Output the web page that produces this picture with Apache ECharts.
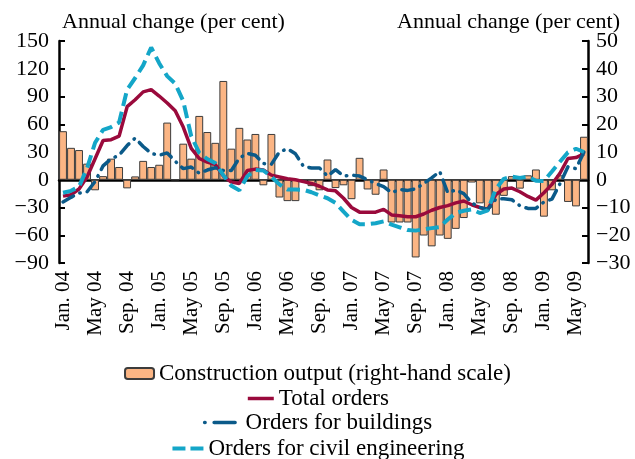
<!DOCTYPE html>
<html>
<head>
<meta charset="utf-8">
<script src="https://cdn.jsdelivr.net/npm/echarts@6/dist/echarts.min.js"></script>
<style>
html, body { margin: 0; padding: 0; background: #fff; }
#chart { width: 635px; height: 459px; }
</style>
</head>
<body>
<div id="chart"></div>
<script>
// month categories, Jan. 04 .. June 09
var monthNames = ['Jan.', 'Feb.', 'Mar.', 'Apr.', 'May', 'June', 'July', 'Aug.', 'Sep.', 'Oct.', 'Nov.', 'Dec.'];
var years = ['04', '05', '06', '07', '08', '09'];
var months = [];
years.forEach(function (y) {
  monthNames.forEach(function (m) { months.push(m + ' ' + y); });
});
months = months.slice(0, 66);

// construction output, right-hand scale
var construction = [
  17.5, 11.5, 10.7, 5.8, -3.8, 1.3, 7.6, 4.6, -3.1, 1.2, 6.8, 4.6,
  5.4, 20.6, 0, 13.0, 7.6, 23.0, 17.2, 13.3, 35.6, 11.2, 18.7, 14.5,
  16.5, -2.0, 16.5, -6.4, -7.7, -7.7, -0.5, -2.3, -3.8, 7.3, -3.0, -2.0,
  -7.0, 7.9, -3.5, -5.4, 3.7, -15.4, -15.4, -15.4, -28.0, -20.1, -24.0, -20.1,
  -21.3, -17.7, -13.8, -1.0, -8.5, -10.3, -12.6, -5.8, 1.3, -3.2, 1.6, 3.7,
  -13.3, -3.8, 1.6, -8.0, -9.6, 15.5
];
// left-hand scale
var totalOrders = [
  -17.7, -16.2, -10, 3, 22.7, 42.5, 43.3, 47.2, 79, 86.5, 95, 97.4,
  90.5, 83, 74.5, 57, 34, 23, 19, 16.5, 4, -2.5, -4, 10,
  11.5, 10.5, 5, 3, 1, 0, -2, -4, -7, -11, -12, -20,
  -30, -35, -35, -35, -32, -38, -39, -40, -40, -37, -33, -30,
  -28, -25, -23, -27, -30, -32, -16, -10, -9, -13, -18, -22,
  -14, -5, 7, 23, 24, 28
];
var buildings = [
  -24, -19, -14.5, -13, -2, 15, 22.7, 26.5, 37, 45, 36, 28.5,
  26.5, 29, 20, 12, 13.7, 7, 10.5, 13, 10, 10, 23.5, 28.5,
  26.5, 17.5, 16.8, 30, 33.5, 28, 14.5, 12.7, 12.8, 4, 11, 4,
  5, 4, 0, -4, -7.5, -14, -10.5, -11.5, -10, -4, 2, 9,
  -14, -11, -15, -25, -30, -32, -21, -20.5, -21.6, -28, -31, -31,
  -24, -21, -4.3, 14, 12, 30
];
var civil = [
  -14, -12, -7.5, 12.5, 40, 54, 57, 62, 97.5, 110, 123.7, 143,
  126, 112, 104, 85, 47, 29, 22.4, 18, 5, -6.5, -11.5, 3.8,
  10.6, 10, 3.2, -5, -10.6, -10.6, -10.8, -13.5, -17, -20, -25, -34.5,
  -43.3, -48, -48, -47, -45, -48.5, -51.4, -54.4, -55, -53.5, -52.3, -51.2,
  -43, -36, -33.5, -32, -36, -33, -10, 1, 3.5, 2, 3.5, -1,
  -1.3, 9, 19.5, 29.6, 33.5, 30
];

var serif = 'Liberation Serif';
var minus = function (v) { return String(v).replace('-', '\u2212'); };
var black = '#000';
var red = '#9a0a3c', darkBlue = '#0b5a89', lightBlue = '#14a6c8';

var chart = echarts.init(document.getElementById('chart'));

var legendText = { fontSize: 23, fontFamily: serif, color: black };

var option = {
  animation: false,
  textStyle: { fontFamily: serif, color: black },
  grid: { left: 59, right: 47, top: 41, bottom: 196 },
  graphic: [
    { type: 'text', left: 62, top: 11, style: { text: 'Annual change (per cent)', font: '22px ' + serif, fill: black } },
    { type: 'text', right: 15, top: 11, style: { text: 'Annual change (per cent)', font: '22px ' + serif, fill: black } }
  ],
  xAxis: [
    {
      type: 'category',
      data: months,
      axisLine: { show: false },
      axisTick: { show: false },
      axisLabel: { interval: 3, rotate: 90, fontSize: 21, color: black, margin: 8, fontFamily: serif }
    },
    {
      type: 'category',
      data: months,
      position: 'top',
      axisLine: { onZero: true, lineStyle: { color: black, width: 2.5 } },
      axisTick: { interval: 3, inside: true, length: 5, lineStyle: { color: black, width: 2 } },
      axisLabel: { show: false }
    }
  ],
  yAxis: [
    {
      type: 'value', min: -90, max: 150, interval: 30, position: 'left',
      axisLine: { show: true, lineStyle: { color: black, width: 2.5 } },
      axisTick: { show: true, inside: true, length: 6, lineStyle: { color: black, width: 2 } },
      splitLine: { show: false },
      axisLabel: { formatter: minus, fontSize: 22, color: black, margin: 10, fontFamily: serif }
    },
    {
      type: 'value', min: -30, max: 50, interval: 10, position: 'right',
      axisLine: { show: true, lineStyle: { color: black, width: 2.5 } },
      axisTick: { show: true, inside: true, length: 6, lineStyle: { color: black, width: 2 } },
      splitLine: { show: false },
      axisLabel: { formatter: minus, fontSize: 22, color: black, margin: 8, fontFamily: serif }
    }
  ],
  legend: [
    {
      data: ['Construction output (right-hand scale)'], left: 'center', top: 357,
      itemWidth: 29, itemHeight: 11, itemGap: 8,
      textStyle: legendText
    },
    {
      data: ['Total orders'], left: 'center', top: 382,
      itemWidth: 26, itemHeight: 12,
      itemStyle: { opacity: 0 },
      lineStyle: { width: 3.5 },
      textStyle: legendText
    },
    {
      data: ['Orders for buildings'], left: 'center', top: 406,
      itemWidth: 36, itemHeight: 12,
      itemStyle: { opacity: 0 },
      lineStyle: { type: [0.5, 9, 21, 20], cap: 'round', width: 3.5 },
      textStyle: legendText
    },
    {
      data: ['Orders for civil engineering'], left: 'center', top: 432,
      itemWidth: 31, itemHeight: 12,
      itemStyle: { opacity: 0 },
      lineStyle: { type: [13, 5], width: 4 },
      textStyle: legendText
    }
  ],
  series: [
    {
      name: 'Construction output (right-hand scale)',
      type: 'bar',
      yAxisIndex: 1,
      data: construction,
      barCategoryGap: '2%',
      itemStyle: { color: '#fbb584', borderColor: '#3c3c3c', borderWidth: 1 }
    },
    {
      name: 'Total orders',
      type: 'line',
      data: totalOrders,
      symbol: 'none',
      lineStyle: { color: red, width: 3.5 },
      itemStyle: { color: red }
    },
    {
      name: 'Orders for buildings',
      type: 'line',
      data: buildings,
      symbol: 'none',
      lineStyle: { color: darkBlue, width: 3.5, type: [12, 7, 0.5, 7], cap: 'round' },
      itemStyle: { color: darkBlue }
    },
    {
      name: 'Orders for civil engineering',
      type: 'line',
      data: civil,
      symbol: 'none',
      lineStyle: { color: lightBlue, width: 4, type: [13, 6] },
      itemStyle: { color: lightBlue }
    }
  ]
};

chart.setOption(option);
</script>
</body>
</html>
